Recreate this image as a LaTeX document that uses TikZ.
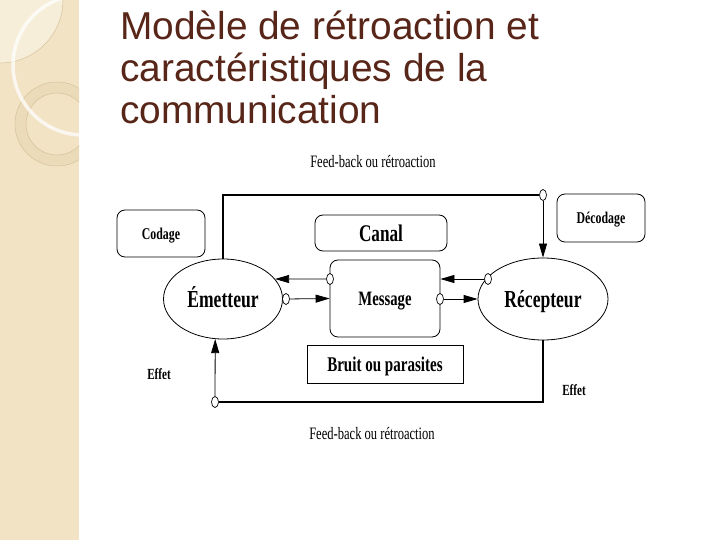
\documentclass[tikz,border=0pt]{standalone}
\usepackage{fontspec}
\setmainfont{Liberation Serif}
\newfontfamily\titlefont{Liberation Sans}
\newfontfamily\diagfont[FakeStretch=0.72]{Liberation Serif}
\usepackage{xcolor}
\usetikzlibrary{arrows.meta,shapes.geometric}

\definecolor{sidebar}{RGB}{241,227,196}
\definecolor{sidelight}{RGB}{247,238,218}
\definecolor{sideband}{RGB}{236,219,184}
\definecolor{sideline}{RGB}{214,194,156}
\definecolor{titlebrown}{RGB}{88,38,24}

\newcommand\dfont[1]{\diagfont\bfseries\fontsize{#1}{#1}\selectfont}

\begin{document}
\begin{tikzpicture}[x=1bp, y=-1bp,
  arr/.style={-{Triangle[length=14bp,width=8bp]}, line width=0.8bp},
  fb/.style={line width=1.8bp},
  dtext/.style={font=\dfont{#1}, text height=#1*0.68bp, text depth=0pt},
  box/.style={draw, line width=0.8bp, rounded corners=8bp, inner sep=0},
  oval/.style={draw, ellipse, line width=0.8bp, inner sep=0},
  port/.style={draw, ellipse, line width=0.7bp, fill=white, minimum width=7bp, minimum height=11bp, inner sep=0}]
  % Page
  \fill[white] (0,0) rectangle (720,540);
  \useasboundingbox (0,0) rectangle (720,540);

  % Sidebar
  \begin{scope}
    \clip (0,0) rectangle (79,540);
    \fill[sidebar] (0,0) rectangle (79,540);
    \fill[sidelight] (0,0) circle (63);
    \draw[sideline, line width=0.5bp] (0,0) circle (63);
    \fill[sideband, even odd rule] (57,124) circle (42) (57,124) circle (31);
    \draw[sideline, line width=0.5bp] (57,124) circle (42) (57,124) circle (31);
    \draw[white, opacity=0.75, line width=3.5bp] (83,65) circle (70);
  \end{scope}

  % Title
  \node[anchor=north west, align=left, inner sep=0, text=titlebrown,
    font=\titlefont\fontsize{39}{42}\selectfont] (title) at (120,11)
    {Modèle de rétroaction et\\caractéristiques de la\\communication};

  % Boxes
  \node[box, dtext=16.5, minimum width=88bp, minimum height=47bp] (codage) at (161,233.5) {Codage};
  \node[box, dtext=24, minimum width=132bp, minimum height=36bp] (canal) at (381,233) {Canal};
  \node[box, dtext=16.5, minimum width=88bp, minimum height=48bp] (decodage) at (601,218) {Décodage};
  \node[box, dtext=20.5, minimum width=110bp, minimum height=77bp] (msg) at (385,298.5) {Message};
  \node[draw, line width=0.8bp, inner sep=0, dtext=21, minimum width=156bp, minimum height=38bp] (bruit) at (385,364) {Bruit ou parasites};

  % Emitter and receiver
  \node[oval, dtext=24.5, minimum width=119bp, minimum height=80bp] (emit) at (223,299) {Émetteur};
  \node[oval, dtext=24.5, minimum width=130bp, minimum height=82bp] (recv) at (543,299) {Récepteur};

  % Ports
  \node[port] (pMl) at (330,279) {};
  \node[port] (pEr) at (286,299) {};
  \node[port] (pMr) at (440,299) {};
  \node[port] (pRl) at (488,279) {};
  \node[port] (pTop) at (543,195) {};
  \node[port] (pBot) at (215,402) {};

  % Message arrows
  \draw[arr] (pMl) -- (emit.21);
  \draw[arr] (pEr) -- (msg.west);
  \draw[arr] (pMr) -- (recv.west);
  \draw[arr] (pRl) -- (pRl -| msg.east);

  % Feedback loops
  \draw[fb] (emit.north) |- (pTop);
  \draw[arr] (pTop) -- (recv.north);
  \draw[fb] (recv.south) |- (pBot);
  \draw[arr] (pBot) -- (emit.259);

  % Labels
  \node[font=\diagfont\fontsize{17.5}{17.5}\selectfont] (fbtop) at (373,162) {Feed-back ou rétroaction};
  \node[font=\diagfont\fontsize{17.5}{17.5}\selectfont] (fbbot) at (372,434) {Feed-back ou rétroaction};
  \node[dtext=15.5] (effetl) at (159,374) {Effet};
  \node[dtext=15.5] (effetr) at (574,390) {Effet};
\end{tikzpicture}
\end{document}
